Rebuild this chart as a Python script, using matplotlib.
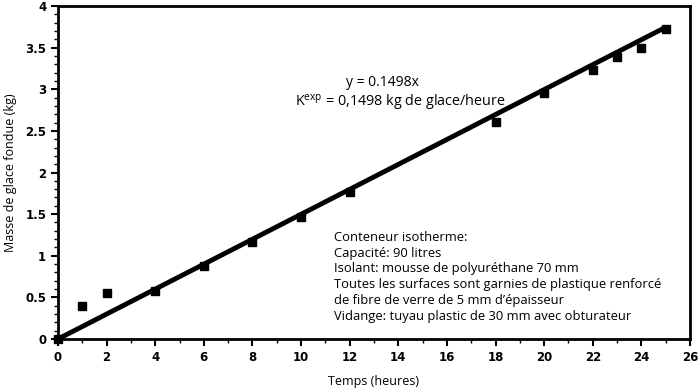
import matplotlib
matplotlib.use("Agg")
import matplotlib.pyplot as plt
import numpy as np
from matplotlib.ticker import MultipleLocator

# === DATA ===
temps = [0, 1, 2, 4, 6, 8, 10, 12, 18, 20, 22, 23, 24, 25]
masse = [0, 0.40, 0.55, 0.58, 0.88, 1.17, 1.47, 1.76, 2.61, 2.96, 3.23, 3.39, 3.50, 3.72]
pente = 0.1498
fit_x = [0, 25]

notes = [
    "Conteneur isotherme:",
    "Capacité: 90 litres",
    "Isolant: mousse de polyuréthane 70 mm",
    "Toutes les surfaces sont garnies de plastique renforcé",
    "de fibre de verre de 5 mm d\u2019épaisseur",
    "Vidange: tuyau plastic de 30 mm avec obturateur",
]

plt.rcParams['font.family'] = ['Open Sans', 'DejaVu Sans']

fig = plt.figure(figsize=(7, 3.91), dpi=100)
ax = fig.add_axes([58 / 700, 1 - 339 / 391, 632 / 700, 333 / 391])

ax.plot(fit_x, [pente * v for v in fit_x], color='black', lw=3.5,
        solid_capstyle='butt', clip_on=False)
ax.plot(temps, masse, 's', color='black', ms=5.5, clip_on=False, zorder=3)

ax.set_xlim(0, 26)
ax.set_ylim(0, 4)
ax.xaxis.set_major_locator(MultipleLocator(2))
ax.xaxis.set_minor_locator(MultipleLocator(1))
ax.yaxis.set_minor_locator(MultipleLocator(0.1))
ax.set_yticks([0, 0.5, 1, 1.5, 2, 2.5, 3, 3.5, 4])
ax.set_yticklabels(['0', '0.5', '1', '1.5', '2', '2.5', '3', '3.5', '4'])

ax.tick_params(which='major', direction='out', length=5, width=1.5, labelsize=8.5)
ax.tick_params(which='minor', direction='out', length=3, width=1)
for lab in ax.get_xticklabels() + ax.get_yticklabels():
    lab.set_fontweight('bold')
    lab.set_family(['DejaVu Sans'])
for s in ax.spines.values():
    s.set_linewidth(2)

ax.set_xlabel("Temps (heures)", fontsize=9, labelpad=8)
ax.set_ylabel("Masse de glace fondue (kg)", fontsize=9, labelpad=6)

ax.text(13.35, 3.08, "y = 0.1498x", ha='center', va='center', fontsize=10)
ax.text(14.1, 2.84, r"K$^{\mathregular{exp}}$ = 0,1498 kg de glace/heure",
        ha='center', va='center', fontsize=10.4)

ax.text(11.35, 1.30, "\n".join(notes), ha='left', va='top', fontsize=9.4,
        linespacing=1.28)

fig.savefig("out.png", dpi=100)
